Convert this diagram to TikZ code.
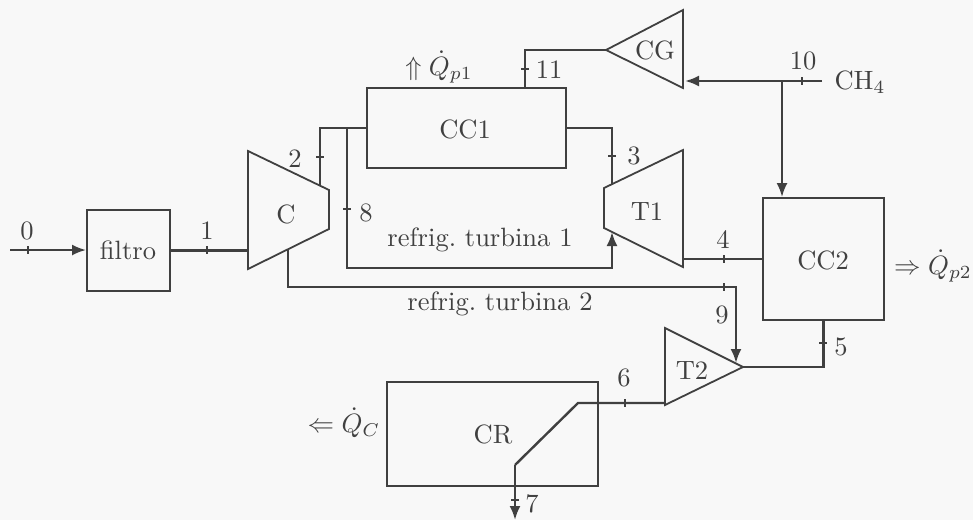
\documentclass[tikz,border=0pt]{standalone}
\usetikzlibrary{arrows.meta,calc}
\definecolor{ink}{gray}{0.25}
\definecolor{paper}{gray}{0.972}
\tikzset{
  x=1pt,y=-1pt,
  lab/.style={inner sep=0pt,scale=2.65,text=ink},
  blk/.style={draw=ink,line width=1.8pt,inner sep=0pt},
  machine/.style={draw=ink,line width=1.8pt,line join=miter},
  pipe/.style={draw=ink,line width=2.4pt,line join=miter},
  flow/.style={pipe,-{Latex[length=14pt,width=11pt]}},
  tick/.style={draw=ink,line width=1.4pt}
}
\newcommand{\tickv}[1]{\draw[tick] ($(#1)+(0,-4)$) -- ($(#1)+(0,4)$);}
\newcommand{\tickh}[1]{\draw[tick] ($(#1)+(-4,0)$) -- ($(#1)+(4,0)$);}
\begin{document}
\begin{tikzpicture}
\useasboundingbox[fill=paper] (0,0) rectangle (973,520);
% boxes
\node[blk,minimum width=83pt,minimum height=81pt] (filtro) at (128.5,250.5) {};
\node[lab] (filtrot) at (128,250) {filtro};
\node[blk,minimum width=199pt,minimum height=80pt] (CC1) at (466.5,128) {};
\node[lab] (CC1t) at (465,129) {CC1};
\node[blk,minimum width=121pt,minimum height=122pt] (CC2) at (823.5,259) {};
\node[lab] (CC2t) at (823,260) {CC2};
\node[blk,minimum width=211pt,minimum height=104pt] (CR) at (492.5,434) {};
\node[lab] (CRt) at (493,434) {CR};
% machines
\coordinate (Ca) at (248,151); \coordinate (Cb) at (329,190);
\coordinate (Cc) at (329,229); \coordinate (Cd) at (248,269);
\draw[machine] (Ca) -- (Cb) -- (Cc) -- (Cd) -- cycle;
\node[lab] (Ct) at (286,214) {C};
\coordinate (Ta) at (604,188); \coordinate (Tb) at (683,150);
\coordinate (Tc) at (683,267); \coordinate (Td) at (604,228);
\draw[machine] (Ta) -- (Tb) -- (Tc) -- (Td) -- cycle;
\node[lab] (T1t) at (647,212) {T1};
\coordinate (Ga) at (606,50); \coordinate (Gb) at (683,10); \coordinate (Gc) at (683,88);
\draw[machine] (Ga) -- (Gb) -- (Gc) -- cycle;
\node[lab] (CGt) at (655,50) {CG};
\coordinate (Ha) at (665,328); \coordinate (Hb) at (743,367); \coordinate (Hc) at (665,405);
\draw[machine] (Ha) -- (Hb) -- (Hc) -- cycle;
\node[lab] (T2t) at (692,371) {T2};
% free ends and junctions
\coordinate (in0) at (10,250);
\coordinate (c2) at (320,185);
\coordinate (j8) at (347,128);
\coordinate (t8) at (612,232);
\coordinate (t3) at (612,184);
\coordinate (c9) at (288,250);
\coordinate (c9r) at (736,287);
\coordinate (t9) at (736,363);
\coordinate (g11) at (525,88);
\coordinate (ch4) at (822,81);
\coordinate (j10) at (782,81);
\coordinate (g10) at (685,81);
\coordinate (o6a) at (578,403);
\coordinate (o6b) at (515,465);
\coordinate (o7) at (515,520);
% connectors
\draw[flow] (in0) -- (in0 -| filtro.west);
\draw[pipe] (filtro.east) -- (filtro.east -| Ca);
\draw[pipe] (c2) |- (CC1.west);
\draw[flow] (j8) -- (j8 |- 0,268) -| (t8);
\draw[pipe] (CC1.east) -| (t3);
\draw[pipe] (Ga) -| (g11);
\draw[flow] (ch4) -- (g10);
\draw[flow] (j10) -- (j10 |- CC2.north);
\draw[pipe] (683,259) -- (CC2.west);
\draw[flow] (c9) |- (c9r) -- (t9);
\draw[pipe] (Hb) -| (CC2.south);
\draw[pipe] (Hc |- o6a) -- (o6a) -- (o6b);
\draw[flow] (o6b) -- (o7);
% ticks
\tickv{28,250} \tickv{207,250} \tickh{320,157} \tickh{347,209}
\tickh{612,156} \tickh{525,69} \tickv{802,81} \tickv{724,259}
\tickv{724,287} \tickh{823,343} \tickv{625,403} \tickh{515,500}
% labels
\node[lab] (n0) at (27,231) {0};
\node[lab] (n1) at (207,231) {1};
\node[lab] (n2) at (295,159) {2};
\node[lab] (n8) at (366,213) {8};
\node[lab] (n3) at (634,156) {3};
\node[lab] (n11) at (549,70) {11};
\node[lab] (n10) at (803,61) {10};
\node[lab] (nch) at (860,82) {CH$_4$};
\node[lab] (n4) at (723,240) {4};
\node[lab] (n9) at (722,315) {9};
\node[lab] (n5) at (841,347) {5};
\node[lab] (n6) at (624,378) {6};
\node[lab] (n7) at (532,504) {7};
\node[lab] (q1) at (439,67) {$\Uparrow\dot Q_{p1}$};
\node[lab] (q2) at (933,266) {$\Rightarrow\dot Q_{p2}$};
\node[lab] (qc) at (344,423) {$\Leftarrow\dot Q_{C}$};
\node[lab] (r1) at (480,240) {refrig.\ turbina 1};
\node[lab] (r2) at (500,304) {refrig.\ turbina 2};
\end{tikzpicture}
\end{document}
